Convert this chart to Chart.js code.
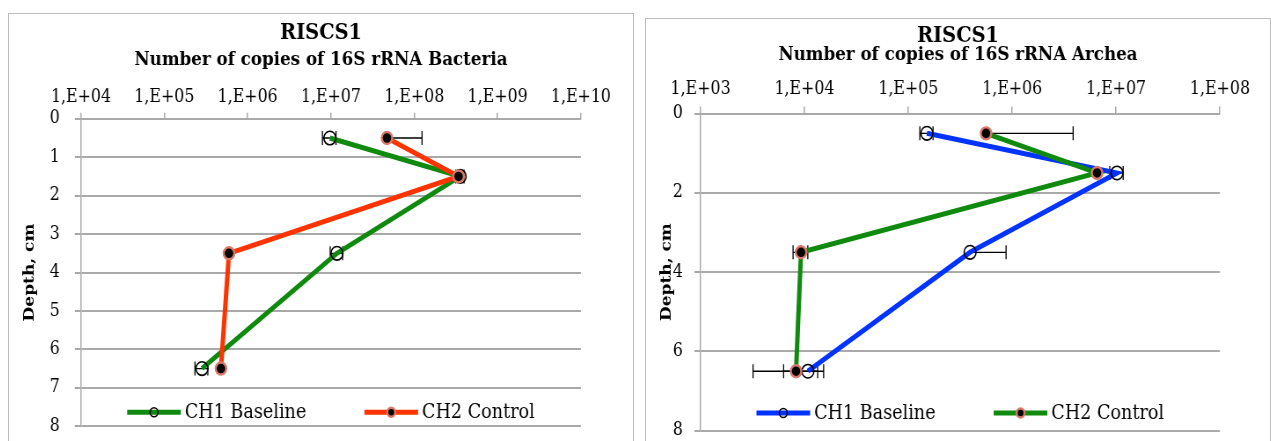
<!DOCTYPE html>
<html>

<head>
    <meta charset="utf-8" />
    <style>
        body { margin: 0; background: #fff; width: 1271px; height: 441px; overflow: hidden; position: relative; }
        .frame { position: absolute; border: 1px solid #bcbcbc; overflow: hidden; background: #fff; }
        /* charts are drawn wide and squeezed horizontally */
        .squeeze { width: 709px; height: 440px; transform: scaleX(0.88); transform-origin: 0 0; }
    </style>
</head>

<body>

    <div class="frame" style="left: 8px; top: 13px; width: 624px; height: 440px;">
        <div class="squeeze"><canvas id="bacteria"></canvas></div>
    </div>
    <div class="frame" style="left: 645px; top: 18px; width: 624px; height: 440px;">
        <div class="squeeze"><canvas id="archea"></canvas></div>
    </div>

    <script src="https://cdn.jsdelivr.net/npm/chart.js"></script>
    <script type="text/javascript">

        // sampling depth, cm
        const depths = [0.5, 1.5, 3.5, 6.5];
        const seriesNames = ['CH1 Baseline', 'CH2 Control'];

        // 16S rRNA Bacteria, copies (error = +/- value)
        const bactBaseline = [9.7e6, 3.55e8, 1.18e7, 2.83e5];
        const bactBaselineErr = [1.8e6, 4.0e7, 2.0e6, 5.0e4];
        const bactControl = [4.7e7, 3.4e8, 5.97e5, 4.78e5];
        const bactControlErr = [7.7e7, 0, 0, 0];
        const bactDecades = [1e4, 1e5, 1e6, 1e7, 1e8, 1e9, 1e10];
        const bactTickLabels = ['1,E+04', '1,E+05', '1,E+06', '1,E+07', '1,E+08', '1,E+09', '1,E+10'];

        // 16S rRNA Archea, copies
        const archBaseline = [1.51e5, 1.02e7, 3.93e5, 1.08e4];
        const archBaselineErr = [2.2e4, 1.5e6, 4.8e5, 4.5e3];
        const archControl = [5.6e5, 6.56e6, 9.27e3, 8.3e3];
        const archControlErr = [3.3e6, 0, 1.5e3, 5.1e3];
        const archDecades = [1e3, 1e4, 1e5, 1e6, 1e7, 1e8];
        const archTickLabels = ['1,E+03', '1,E+04', '1,E+05', '1,E+06', '1,E+07', '1,E+08'];

        Chart.defaults.font.family = "'DejaVu Serif', serif";
        Chart.defaults.color = '#000';

        const GRID = '#a9a9a9';
        const GREEN = '#0f8a0f';
        const RED = '#ff3300';
        const BLUE = '#0033ff';

        // horizontal error bars, drawn under the series
        const errorBars = {
            id: 'errorBars',
            beforeDatasetsDraw(chart) {
                const ctx = chart.ctx;
                const xs = chart.scales.x;
                const ys = chart.scales.y;
                ctx.save();
                ctx.strokeStyle = '#000';
                ctx.lineWidth = 1.3;
                chart.data.datasets.forEach(ds => {
                    (ds.errors || []).forEach((err, i) => {
                        if (!err) return;
                        const p = ds.data[i];
                        const y = ys.getPixelForValue(p.y);
                        const x0 = xs.getPixelForValue(p.x);
                        const ends = [p.x + err];
                        if (p.x - err > 0) ends.push(p.x - err);
                        ends.forEach(v => {
                            const x1 = xs.getPixelForValue(v);
                            ctx.beginPath();
                            ctx.moveTo(x0, y);
                            ctx.lineTo(x1, y);
                            ctx.moveTo(x1, y - 7);
                            ctx.lineTo(x1, y + 7);
                            ctx.stroke();
                        });
                    });
                });
                ctx.restore();
            }
        };

        // legend sitting inside the plot, above the bottom gridline
        const bottomLegend = {
            id: 'bottomLegend',
            afterDraw(chart, args, opts) {
                const ctx = chart.ctx;
                const area = chart.chartArea;
                const sets = chart.data.datasets;
                ctx.save();
                ctx.font = opts.font;
                const widths = sets.map(ds => opts.lineLength + opts.gap + ctx.measureText(ds.label).width);
                const total = widths.reduce((a, b) => a + b, 0) + opts.spacing * (sets.length - 1);
                let x = (area.left + area.right) / 2 - total / 2;
                const y = area.bottom - opts.offset;
                sets.forEach((ds, i) => {
                    ctx.strokeStyle = ds.borderColor;
                    ctx.lineWidth = 5;
                    ctx.beginPath();
                    ctx.moveTo(x, y);
                    ctx.lineTo(x + opts.lineLength, y);
                    ctx.stroke();

                    ctx.fillStyle = ds.pointBackgroundColor;
                    ctx.strokeStyle = ds.pointBorderColor;
                    ctx.lineWidth = ds.pointBorderWidth;
                    Chart.helpers.drawPoint(ctx, { pointStyle: 'circle', radius: 4.5, borderWidth: ds.pointBorderWidth },
                        x + opts.lineLength / 2, y);

                    ctx.fillStyle = '#000';
                    ctx.textAlign = 'left';
                    ctx.textBaseline = 'middle';
                    ctx.fillText(ds.label, x + opts.lineLength + opts.gap, y + 1);
                    x += widths[i] + opts.spacing;
                });
                ctx.restore();
            }
        };

        function makeSeries(label, values, errors, color, filled) {
            return {
                label: label,
                data: values.map((v, i) => ({ x: v, y: depths[i] })),
                errors: errors,
                borderColor: color,
                borderWidth: 5,
                tension: 0,
                fill: false,
                pointStyle: 'circle',
                pointRadius: filled ? 6 : 6.8,
                pointHoverRadius: filled ? 6 : 6.8,
                pointBorderWidth: filled ? 2.4 : 1.6,
                pointBackgroundColor: filled ? '#000' : 'rgba(255,255,255,0)',
                pointBorderColor: filled ? '#d9786a' : '#000',
                order: filled ? 0 : 1
            };
        }

        function depthChart(id, o) {
            return new Chart(document.getElementById(id), {
                type: 'line',
                data: { datasets: o.series },
                options: {
                    responsive: true,
                    maintainAspectRatio: false,
                    animation: false,
                    layout: { padding: { left: 0, top: 0, right: 0, bottom: o.padBottom } },
                    plugins: {
                        legend: { display: false },
                        tooltip: { enabled: false },
                        title: {
                            display: true, text: 'RISCS1', color: '#000',
                            font: { size: 22, weight: 'bold', lineHeight: 1 },
                            padding: o.titlePad
                        },
                        subtitle: {
                            display: true, text: o.subtitle, color: '#000',
                            font: { size: 19, weight: 'bold', lineHeight: o.subLine },
                            padding: o.subPad
                        },
                        bottomLegend: {
                            font: '20px "DejaVu Serif"', lineLength: 61, gap: 4.5, spacing: 66,
                            offset: o.legendOffset
                        }
                    },
                    scales: {
                        x: {
                            type: 'logarithmic',
                            position: 'top',
                            min: o.decades[0],
                            max: o.decades[o.decades.length - 1],
                            afterBuildTicks: axis => { axis.ticks = o.decades.map(v => ({ value: v })); },
                            afterFit: axis => { axis.height = o.xHeight; },
                            ticks: {
                                font: { size: 18 }, padding: o.xTickPad, autoSkip: false, maxRotation: 0,
                                callback: (v, i) => o.tickLabels[i]
                            },
                            grid: { drawOnChartArea: false, tickLength: o.xTickLen, color: GRID, lineWidth: 1.5 },
                            border: { color: GRID, width: 1.5 }
                        },
                        y: {
                            type: 'linear',
                            reverse: true,
                            min: 0,
                            max: 8,
                            afterFit: axis => { axis.width = o.yWidth; },
                            ticks: { stepSize: o.depthStep, font: { size: 18 }, padding: o.yTickPad },
                            grid: { color: GRID, lineWidth: 2, tickLength: 7 },
                            border: { color: GRID, width: 1.5 },
                            title: {
                                display: true, text: 'Depth, cm',
                                font: { size: 17, weight: 'bold', lineHeight: 1.2 },
                                padding: { top: 13, bottom: 0 }
                            }
                        },
                        // empty right-hand strip so the titles stay centred on the frame
                        yr: {
                            type: 'linear',
                            position: 'right',
                            afterFit: axis => { axis.width = o.padRight; },
                            ticks: { display: false },
                            grid: { display: false, drawTicks: false },
                            border: { display: false }
                        }
                    }
                },
                plugins: [errorBars, bottomLegend]
            });
        }

        depthChart('bacteria', {
            subtitle: 'Number of copies of 16S rRNA Bacteria',
            series: [
                makeSeries(seriesNames[0], bactBaseline, bactBaselineErr, GREEN, false),
                makeSeries(seriesNames[1], bactControl, bactControlErr, RED, true)
            ],
            decades: bactDecades,
            tickLabels: bactTickLabels,
            depthStep: 1,
            xHeight: 49.3, xTickLen: 6, xTickPad: 5,
            yWidth: 81.8, yTickPad: 17,
            padRight: 59.1, padBottom: 27,
            titlePad: { top: 8, bottom: 0 }, subPad: { top: 6.5, bottom: 0 }, subLine: 1,
            legendOffset: 14
        });

        depthChart('archea', {
            subtitle: 'Number of copies of 16S rRNA Archea',
            series: [
                makeSeries(seriesNames[0], archBaseline, archBaselineErr, BLUE, false),
                makeSeries(seriesNames[1], archControl, archControlErr, GREEN, true)
            ],
            decades: archDecades,
            tickLabels: archTickLabels,
            depthStep: 2,
            xHeight: 50.6, xTickLen: 7, xTickPad: 6,
            yWidth: 62.0, yTickPad: 13,
            padRight: 56.8, padBottom: 28.3,
            titlePad: { top: 6.7, bottom: 0 }, subPad: { top: 0, bottom: 0 }, subLine: 0.8,
            legendOffset: 17.7
        });

    </script>

</body>

</html>
